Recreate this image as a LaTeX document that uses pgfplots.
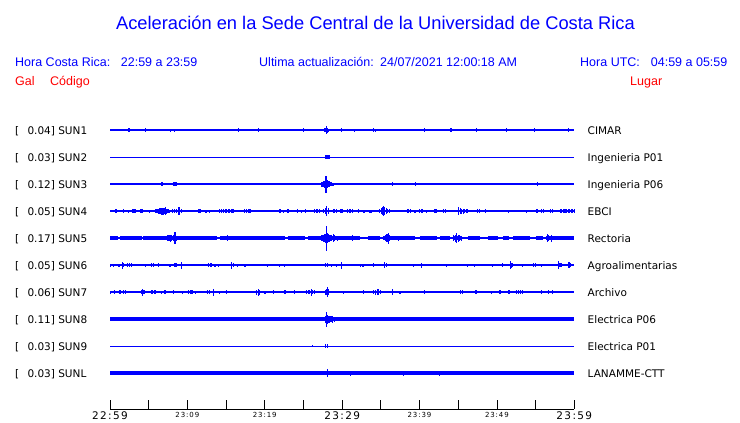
\documentclass[border=0pt]{standalone}
\usepackage{pgfplots}
\pgfplotsset{compat=1.18}
\usepackage{fontspec}
\setmainfont{Liberation Sans}
\newfontfamily\djfont{DejaVu Sans}
\newfontfamily\djtfont[LetterSpace=13]{DejaVu Sans}
\definecolor{tblue}{RGB}{0,0,255}
\definecolor{tred}{RGB}{255,0,0}
\pgfplotsset{
  ev/.style={draw=none, mark=none, forget plot,
    error bars/.cd, y dir=both, y explicit, error mark=none,
    error bar style={line width=1.1pt, draw=tblue, solid}},
  base/.style={no marks, draw=tblue, forget plot, line width=#1},
}
\newcommand\lblfont{\djfont\fontsize{10.5}{12}\selectfont}
\newcommand\hdrfont{\fontsize{12.5}{14}\selectfont}
\newcommand\tkbig{\djtfont\fontsize{10.5}{12}\selectfont}
\newcommand\tksml{\djtfont\fontsize{7}{8}\selectfont}
\begin{document}
\begin{tikzpicture}
\begin{axis}[name=main, at={(110pt,-409pt)}, anchor=south west,
  scale only axis, width=464.3pt, height=294pt,
  xmin=0, xmax=60, ymin=-9, ymax=285, enlargelimits=false, clip=false,
  axis x line=bottom, axis y line=none,
  x axis line style={-, line width=0.8pt, black},
  xtick={0,5,...,60}, tick align=inside, major tick length=9pt,
  xtick style={line width=0.8pt, black},
  xticklabels={{\tkbig 22:59},{},{\tksml 23:09},{},{\tksml 23:19},{},{\tkbig 23:29},{},{\tksml 23:39},{},{\tksml 23:49},{},{\tkbig 23:59}},
  xticklabel style={anchor=north, inner sep=0pt, yshift=-2.7pt},
]
% ---------- SUN1 ----------
\addplot[base=1.2pt] coordinates {(0,270) (60,270)};
\addplot[ev] table[row sep=\\, x=t, y expr=270, y error=a] {t a\\
0.56 1\\ 2.35 2\\ 2.46 2\\ 2.57 2\\ 4.57 2\\ 7.80 1.5\\ 8.32 1.5\\ 14.26 1\\ 16.59 2\\ 19.17 2\\ 25.03 2\\
27.70 2\\ 27.85 2\\ 28.00 3.7\\ 28.13 2.5\\ 28.26 1.5\\ 29.86 2\\ 31.57 1.5\\ 34.03 2\\ 34.29 1.5\\ 40.62 2\\
44.07 2\\ 47.34 2\\ 51.22 2\\ 54.84 2\\ 59.23 2\\};
% ---------- SUN2 ----------
\addplot[base=1pt] coordinates {(0,243) (60,243)};
\addplot[ev] table[row sep=\\, x=t, y expr=243, y error=a] {t a\\
27.90 1.7\\ 28.03 1.7\\ 28.16 1.7\\ 28.30 1.7\\ 28.42 1.7\\};
% ---------- SUN3 ----------
\addplot[base=1.2pt] coordinates {(0,216) (60,216)};
\addplot[ev] table[row sep=\\, x=t, y expr=216, y error=a] {t a\\
6.65 2\\ 6.78 2\\ 7.15 1\\ 8.25 2\\ 8.38 2\\ 8.51 2\\ 8.60 2\\ 10.51 1\\
27.40 2.5\\ 27.53 2.5\\ 27.66 3\\ 27.79 3.5\\ 27.91 8.5\\ 28.04 4\\ 28.17 3\\ 28.30 3\\ 28.43 2\\ 28.56 2\\ 28.69 1.5\\ 28.82 1.5\\
36.48 2\\ 39.46 2\\ 42.56 1\\ 55.23 2\\};
% ---------- SUN4 ----------
\addplot[base=1.4pt] coordinates {(0,189) (60,189)};
\addplot[ev] table[row sep=\\, x=t, y expr=189, y error=a] {t a\\
0.70 2\\ 0.85 2\\ 1.42 1\\ 1.76 2\\ 2.37 1.5\\ 2.95 2\\ 3.10 2\\ 3.25 2\\ 3.95 2\\ 4.10 2\\ 4.25 2\\ 5.08 1.5\\
5.95 2\\ 6.10 2\\ 6.25 2.5\\ 6.40 3\\ 6.55 3\\ 6.70 3.5\\ 6.85 3.5\\ 7.00 3\\ 7.20 4\\ 7.35 2.5\\ 7.50 2\\ 7.70 1.5\\
8.10 2\\ 8.30 2\\ 8.60 2\\ 8.92 4\\ 9.20 2\\ 10.00 1\\ 10.64 1\\ 11.50 2\\ 11.70 2\\ 12.41 1.5\\ 12.84 1.5\\ 13.57 1\\
14.20 2\\ 14.40 2\\ 14.70 2\\ 14.90 2\\ 15.10 2\\ 15.30 2\\ 15.50 2\\ 15.70 2\\ 15.90 2\\ 17.40 2\\ 17.60 2\\ 17.96 2\\ 18.10 2\\
19.95 1\\ 20.38 1\\ 21.85 2\\ 22.05 2\\ 22.40 1.5\\ 22.96 2\\ 23.10 2\\ 24.28 2\\ 24.77 1.5\\ 25.25 2\\
26.45 2\\ 26.65 2\\ 26.85 2\\ 27.05 2\\ 27.60 2\\ 27.80 3\\ 28.00 5\\ 28.20 3\\ 28.85 2\\ 29.05 2\\ 29.25 2\\ 29.85 2\\ 30.10 2\\
30.70 2\\ 30.90 2\\ 31.10 2\\ 31.30 2\\ 31.66 1\\ 32.09 2\\ 32.52 1\\ 32.82 1.5\\ 33.60 1.5\\ 33.80 1.5\\
34.85 2\\ 35.05 3\\ 35.25 4\\ 35.33 5\\ 35.50 4\\ 35.70 3\\ 35.90 2\\ 36.10 2\\ 36.74 1\\ 37.48 1\\
38.40 2\\ 38.60 2\\ 38.80 2\\ 39.30 1.5\\ 39.50 1.5\\ 40.00 2\\ 40.20 2\\ 40.40 2\\ 40.92 1.5\\ 42.00 2\\ 42.20 2\\
43.10 2\\ 43.40 2\\ 43.94 1\\ 45.05 4\\ 45.25 3\\ 45.45 2.5\\ 45.65 2.5\\ 45.85 2\\ 46.05 2\\ 46.20 2\\
47.50 2\\ 47.75 2\\ 48.50 2\\ 49.67 1\\ 51.48 1.5\\ 52.99 1\\ 53.80 1.5\\ 55.10 2\\ 55.30 2\\ 55.75 2\\ 56.05 2\\
56.95 2\\ 57.20 2\\ 58.20 2\\ 58.40 2\\ 58.60 2\\ 58.80 2\\ 59.00 2\\ 59.20 2\\ 59.40 2\\ 59.60 2\\ 59.80 2\\ 60.00 2\\};
% ---------- SUN5 ----------
\addplot[base=2.4pt] coordinates {(0,162) (60,162)};
\addplot[base=3.7pt, unbounded coords=jump] coordinates {
(0,162) (1.08,162) (1.08,nan) (1.29,162) (4.09,162) (4.09,nan) (4.31,162) (13.79,162) (13.79,nan)
(14.22,162) (22.62,162) (22.62,nan) (22.96,162) (25.2,162) (25.2,nan) (25.6,162) (32.3,162) (32.3,nan)
(33.4,162) (34.9,162) (34.9,nan) (35.3,162) (39.4,162) (39.4,nan) (40.06,162) (42.2,162) (42.2,nan)
(42.65,162) (43.94,162) (43.94,nan) (44.37,162) (45.45,162) (45.45,nan) (46.3,162) (47.8,162) (47.8,nan)
(48.9,162) (50.2,162) (50.2,nan) (50.8,162) (51.5,162) (51.5,nan) (52.1,162) (54.3,162) (54.3,nan)
(55.1,162) (56.0,162) (56.0,nan) (56.4,162) (60,162)};
\addplot[ev] table[row sep=\\, x=t, y expr=162, y error=a] {t a\\
7.40 3\\ 7.55 3\\ 7.70 3\\ 7.85 3.5\\ 8.00 3\\ 8.15 3\\ 8.30 3\\ 8.40 6\\ 8.55 2.5\\ 15.17 3\\
27.40 3\\ 27.55 3.5\\ 27.70 4\\ 27.85 4.5\\ 28.00 12.5\\ 28.10 5\\ 28.25 4\\ 28.40 3.5\\ 28.55 3\\ 28.65 3\\ 28.85 4\\ 29.05 3\\ 29.40 2.5\\
31.36 3\\ 35.60 3\\ 35.80 4\\ 35.97 5.5\\ 36.10 3\\ 37.26 2.5\\ 44.40 3\\ 44.60 3.5\\ 44.80 5\\ 45.00 3.5\\ 45.20 3\\ 45.40 2.5\\
56.50 4\\ 56.70 3\\ 57.10 3.5\\};
% ---------- SUN6 ----------
\addplot[base=1.4pt] coordinates {(0,135) (60,135)};
\addplot[ev] table[row sep=\\, x=t, y expr=135, y error=a] {t a\\
0.05 1.5\\ 0.50 1.5\\ 1.10 1.5\\ 1.25 1.5\\ 1.66 3.5\\ 1.80 2\\ 2.30 2\\ 2.50 2\\ 2.75 2\\ 4.55 1.5\\ 5.40 2\\ 5.65 2\\
6.30 2\\ 7.76 1.5\\ 8.40 2\\ 8.60 2\\ 9.20 3.5\\ 9.82 1\\ 12.70 2\\ 12.95 2\\ 13.10 2\\ 13.57 1.5\\ 14.00 1.5\\ 14.69 1\\
15.70 3.5\\ 15.95 2\\ 16.50 1.5\\ 16.80 1\\ 17.45 1.5\\ 18.35 1\\ 20.38 1.5\\ 21.90 1.5\\ 22.60 1.5\\ 24.34 1\\ 26.80 1\\
27.90 2\\ 28.10 2\\ 28.65 1.5\\ 29.30 1.5\\ 29.94 3.5\\
32.40 1.5\\ 32.70 1.5\\ 34.03 2\\ 35.10 1\\ 35.45 3\\ 35.70 2\\ 39.20 1.5\\ 40.28 2.5\\ 43.50 1.5\\ 46.18 1.5\\ 47.08 1.5\\
48.55 1\\ 49.40 1.5\\ 50.74 2\\ 51.70 4\\ 51.90 2.5\\ 52.05 2\\ 53.29 1.5\\ 54.70 2\\ 55.00 2\\ 55.74 1.5\\ 56.43 1\\
57.95 4\\ 58.15 2\\ 58.30 2\\ 59.20 3\\ 59.35 3\\ 59.50 2\\};
% ---------- SUN7 ----------
\addplot[base=1.4pt] coordinates {(0,108) (60,108)};
\addplot[ev] table[row sep=\\, x=t, y expr=108, y error=a] {t a\\
0.05 1.5\\ 0.60 2\\ 1.20 2\\ 1.40 2\\ 1.75 2\\ 1.95 2\\ 2.15 1\\ 4.10 2\\ 4.22 3.5\\ 4.40 2\\ 5.35 2\\ 5.55 2\\ 5.82 2\\
6.70 1.5\\ 7.11 2\\ 8.20 2\\ 9.35 1.5\\ 10.15 2\\ 10.35 2\\ 10.60 2\\ 11.07 1.5\\ 11.72 1\\ 12.65 2\\ 12.85 2\\ 13.36 3.5\\
14.13 1.5\\ 15.08 2\\ 17.23 1\\ 18.00 1\\ 18.95 2.5\\ 19.15 3.5\\ 19.35 2.5\\ 20.03 1.5\\ 21.10 2\\ 22.62 2\\ 23.90 2\\
25.40 2\\ 25.60 2\\ 25.80 2\\ 26.00 3.5\\ 26.20 2\\ 26.40 2\\ 27.80 2.5\\ 27.95 3\\ 28.05 5\\ 28.20 3\\ 30.16 1.5\\
32.74 2\\ 33.60 1\\ 34.03 2\\ 34.30 2.5\\ 34.55 3\\ 34.70 3\\ 34.95 2\\ 36.50 3\\ 37.47 1.5\\ 40.70 2\\
45.30 2\\ 45.55 2\\ 47.30 2\\ 49.30 1.5\\ 50.40 2\\ 51.56 2\\ 52.50 2\\ 52.75 2\\ 53.00 2\\ 53.25 2\\
55.80 2\\ 56.65 2\\ 57.20 2\\};
% ---------- SUN8 ----------
\addplot[base=3.6pt] coordinates {(0,81) (60,81)};
\addplot[ev] table[row sep=\\, x=t, y expr=81, y error=a] {t a\\
27.80 3.5\\ 27.95 4.5\\ 28.00 7.5\\ 28.15 4.5\\ 28.30 3.5\\ 28.45 3\\ 28.60 3\\ 28.80 3.5\\ 29.00 2.5\\};
% ---------- SUN9 ----------
\addplot[base=1pt] coordinates {(0,54) (60,54)};
\addplot[ev] table[row sep=\\, x=t, y expr=54, y error=a] {t a\\
26.15 1\\ 27.90 2.2\\ 28.05 2.2\\};
% ---------- SUNL ----------
\addplot[base=3.4pt] coordinates {(0,27) (60,27)};
\addplot[ev] table[row sep=\\, x=t, y expr=27, y error=a] {t a\\
28.09 4\\ 31.10 2.5\\ 37.90 2.5\\ 42.60 2.5\\};
\end{axis}
\begin{scope}[x=1pt, y=-1pt]
\path (0,0) rectangle (740,423);
\node[anchor=base, inner sep=0pt, text=tblue, font=\fontsize{18.3}{20}\selectfont] at (375.5,29) {Aceleración en la Sede Central de la Universidad de Costa Rica};
\begin{scope}[every node/.style={anchor=base west, inner sep=0pt, font=\hdrfont, text=tblue}]
\node at (15,66) {Hora Costa Rica:};
\node at (120.7,66) {22:59 a 23:59};
\node at (259,66) {Ultima actualización:};
\node at (380,66) {24/07/2021 12:00:18 AM};
\node at (580,66) {Hora UTC:};
\node at (650.7,66) {04:59 a 05:59};
\node[text=tred] at (15,85) {Gal};
\node[text=tred] at (50,85) {Código};
\node[text=tred] at (630,85) {Lugar};
\end{scope}
\begin{scope}[every node/.style={anchor=base west, inner sep=0pt, font=\lblfont, text=black}]
\foreach \r/\v/\c/\p in {130/0.04/SUN1/CIMAR, 157/0.03/SUN2/Ingenieria P01, 184/0.12/SUN3/Ingenieria P06,
  211/0.05/SUN4/EBCI, 238/0.17/SUN5/Rectoria, 265/0.05/SUN6/Agroalimentarias, 292/0.06/SUN7/Archivo,
  319/0.11/SUN8/Electrica P06, 346/0.03/SUN9/Electrica P01, 373/0.03/SUNL/LANAMME-CTT}{
  \node at (15,\r+4) {[};
  \node at (27.3,\r+4) {\v] \c};
  \node at (587.5,\r+4) {\p};
}
\end{scope}
\end{scope}
\end{tikzpicture}
\end{document}
